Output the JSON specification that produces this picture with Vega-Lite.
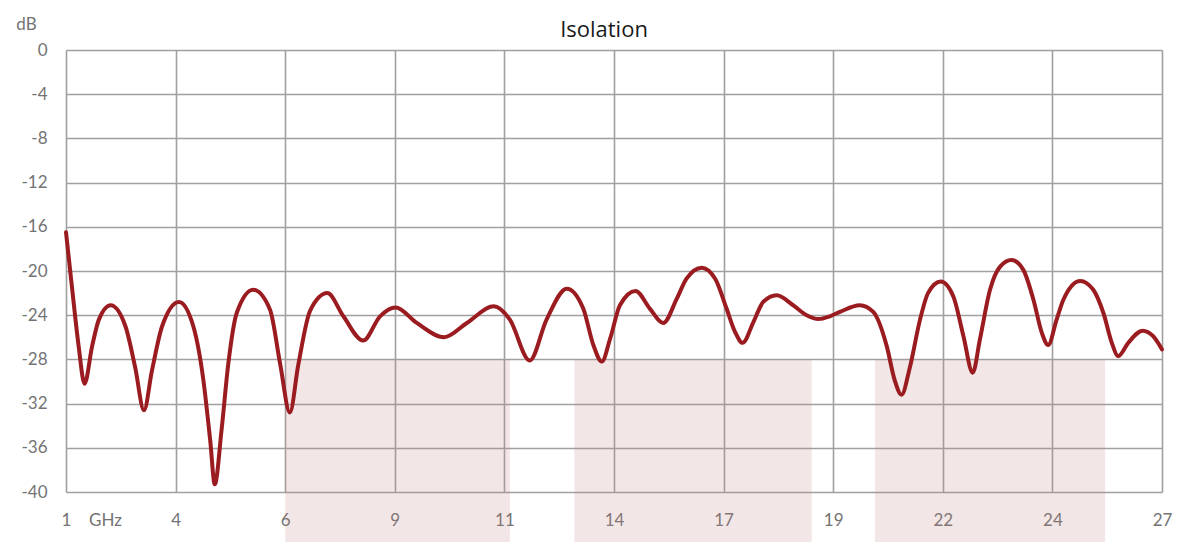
{
  "$schema": "https://vega.github.io/schema/vega-lite/v6.json",
  "width": 1096,
  "height": 442,
  "autosize": {"type": "none"},
  "padding": {"left": 66, "top": 50, "right": 28, "bottom": 50},
  "background": "white",
  "title": {"text": "Isolation", "font": "Open Sans", "fontSize": 22, "fontWeight": "normal", "color": "#1a1a1a", "anchor": "middle", "baseline": "alphabetic", "offset": 13, "dx": -10, "dy": 57},
  "config": {"view": {"stroke": null}},
  "datasets": {
    "curve": [
      {"f": 1.00, "db": -16.5}, {"f": 1.14, "db": -21.4}, {"f": 1.30, "db": -26.8}, {"f": 1.44, "db": -30.2},
      {"f": 1.62, "db": -26.8}, {"f": 1.78, "db": -24.4}, {"f": 2.06, "db": -23.1}, {"f": 2.41, "db": -25.0},
      {"f": 2.64, "db": -28.7}, {"f": 2.85, "db": -32.6}, {"f": 3.04, "db": -29.0}, {"f": 3.28, "db": -25.0},
      {"f": 3.68, "db": -22.8}, {"f": 4.02, "db": -25.0}, {"f": 4.26, "db": -29.9}, {"f": 4.42, "db": -35.3},
      {"f": 4.53, "db": -39.3}, {"f": 4.69, "db": -34.4}, {"f": 4.85, "db": -28.4}, {"f": 5.05, "db": -23.8},
      {"f": 5.44, "db": -21.7}, {"f": 5.84, "db": -23.5}, {"f": 6.08, "db": -28.4}, {"f": 6.31, "db": -32.8},
      {"f": 6.51, "db": -28.5}, {"f": 6.79, "db": -23.6}, {"f": 7.20, "db": -22.0}, {"f": 7.58, "db": -24.1},
      {"f": 8.05, "db": -26.3}, {"f": 8.45, "db": -24.1}, {"f": 8.82, "db": -23.3}, {"f": 9.32, "db": -24.7},
      {"f": 9.97, "db": -26.0}, {"f": 10.51, "db": -24.7}, {"f": 11.15, "db": -23.2}, {"f": 11.53, "db": -24.4},
      {"f": 12.00, "db": -28.1}, {"f": 12.40, "db": -24.4}, {"f": 12.88, "db": -21.6}, {"f": 13.27, "db": -23.4},
      {"f": 13.51, "db": -26.7}, {"f": 13.71, "db": -28.2}, {"f": 13.91, "db": -26.1}, {"f": 14.14, "db": -23.1},
      {"f": 14.51, "db": -21.8}, {"f": 14.85, "db": -23.4}, {"f": 15.17, "db": -24.7}, {"f": 15.49, "db": -22.5},
      {"f": 15.72, "db": -20.7}, {"f": 16.08, "db": -19.7}, {"f": 16.40, "db": -20.7}, {"f": 16.67, "db": -23.4},
      {"f": 16.87, "db": -25.5}, {"f": 17.05, "db": -26.5}, {"f": 17.31, "db": -24.6}, {"f": 17.54, "db": -22.8},
      {"f": 17.86, "db": -22.2}, {"f": 18.25, "db": -23.1}, {"f": 18.57, "db": -24.0}, {"f": 18.85, "db": -24.35},
      {"f": 19.12, "db": -24.1}, {"f": 19.36, "db": -23.7}, {"f": 19.83, "db": -23.1}, {"f": 20.15, "db": -23.7},
      {"f": 20.47, "db": -26.8}, {"f": 20.66, "db": -29.9}, {"f": 20.82, "db": -31.2}, {"f": 21.02, "db": -28.7},
      {"f": 21.26, "db": -24.4}, {"f": 21.45, "db": -22.0}, {"f": 21.75, "db": -20.95}, {"f": 22.05, "db": -22.3},
      {"f": 22.29, "db": -25.9}, {"f": 22.51, "db": -29.2}, {"f": 22.68, "db": -26.2}, {"f": 22.92, "db": -21.7},
      {"f": 23.16, "db": -19.6}, {"f": 23.43, "db": -19.0}, {"f": 23.71, "db": -19.9}, {"f": 23.95, "db": -22.6},
      {"f": 24.15, "db": -25.6}, {"f": 24.30, "db": -26.7}, {"f": 24.50, "db": -24.4}, {"f": 24.66, "db": -22.6},
      {"f": 25.06, "db": -20.9}, {"f": 25.37, "db": -21.7}, {"f": 25.61, "db": -23.8}, {"f": 25.81, "db": -26.5},
      {"f": 25.96, "db": -27.7}, {"f": 26.20, "db": -26.5}, {"f": 26.54, "db": -25.4}, {"f": 26.79, "db": -25.9},
      {"f": 27.00, "db": -27.1}
    ],
    "bands": [
      {"start": 6.2, "end": 11.53},
      {"start": 13.06, "end": 18.69},
      {"start": 20.19, "end": 25.65}
    ]
  },
  "layer": [
    {
      "data": {"name": "bands"},
      "mark": {"type": "rect", "color": "#C08080", "opacity": 0.2},
      "encoding": {
        "x": {"field": "start", "type": "quantitative"},
        "x2": {"field": "end"},
        "y": {"datum": -28},
        "y2": {"datum": -44.6}
      }
    },
    {
      "data": {"name": "curve"},
      "mark": {"type": "line", "interpolate": "monotone", "color": "#9B1C20", "strokeWidth": 4, "strokeCap": "round", "strokeJoin": "round"},
      "encoding": {
        "x": {
          "field": "f", "type": "quantitative",
          "scale": {"domain": [1, 27], "nice": false, "zero": false},
          "axis": {
            "values": [1, 3.6, 6.2, 8.8, 11.4, 14, 16.6, 19.2, 21.8, 24.4, 27],
            "format": ".0f",
            "domain": false, "ticks": false, "tickSize": 0,
            "grid": true, "gridColor": "#A0A0A0", "gridWidth": 1.6, "gridOpacity": 1,
            "labelFont": "Lato", "labelFontSize": 17, "labelColor": "#737373",
            "labelBaseline": "alphabetic", "labelPadding": 33, "labelFlush": false, "labelOverlap": false,
            "title": "GHz", "titleFont": "Lato", "titleFontSize": 17, "titleFontWeight": "normal", "titleColor": "#737373",
            "titleX": 39, "titleY": 33, "titleAlign": "center", "titleBaseline": "alphabetic", "titleAngle": 0
          }
        },
        "y": {
          "field": "db", "type": "quantitative",
          "scale": {"domain": [-40, 0], "nice": false, "zero": false},
          "axis": {
            "values": [-40, -36, -32, -28, -24, -20, -16, -12, -8, -4, 0],
            "labelExpr": "toString(datum.value)",
            "domain": false, "ticks": false, "tickSize": 0,
            "grid": true, "gridColor": "#A0A0A0", "gridWidth": 1.6, "gridOpacity": 1,
            "labelFont": "Lato", "labelFontSize": 17, "labelColor": "#737373",
            "labelPadding": 19, "labelFlush": false, "labelOverlap": false,
            "title": "dB", "titleFont": "Lato", "titleFontSize": 17, "titleFontWeight": "normal", "titleColor": "#737373",
            "titleX": -40, "titleY": -21, "titleAlign": "center", "titleBaseline": "alphabetic", "titleAngle": 0
          }
        }
      }
    }
  ]
}
